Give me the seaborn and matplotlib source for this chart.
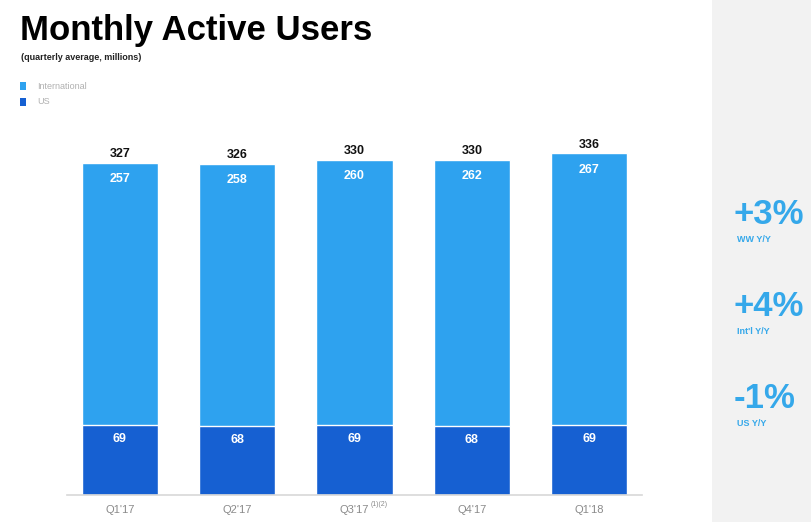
import matplotlib
matplotlib.use("Agg")
import matplotlib.pyplot as plt
import seaborn as sns
from matplotlib.patches import Rectangle

quarters = ["Q1'17", "Q2'17", "Q3'17", "Q4'17", "Q1'18"]
footnotes = ["", "", "(1)(2)", "", ""]
totals = [327, 326, 330, 330, 336]
international = [257, 258, 260, 262, 267]
us = [69, 68, 69, 68, 69]

growth_values = ["+3%", "+4%", "-1%"]
growth_labels = ["WW Y/Y", "Int'l Y/Y", "US Y/Y"]

INTL_COLOR = "#2ea2ef"
US_COLOR = "#1660d2"
STAT_COLOR = "#35a8ea"

sns.set_style("white")
plt.rcParams["font.family"] = ["Liberation Sans", "DejaVu Sans"]

fig = plt.figure(figsize=(8.12, 5.22), dpi=100)
fig.patch.set_facecolor("white")

# grey panel on the right
fig.patches.append(Rectangle((712 / 812, 0), 100 / 812, 1, transform=fig.transFigure,
                             facecolor="#f2f2f2", edgecolor="none", zorder=0))

ax = fig.add_axes([67 / 812, 27 / 522, 575 / 812, 366 / 522])
sns.barplot(x=quarters, y=totals, color=INTL_COLOR, width=0.65, saturation=1, ax=ax)
sns.barplot(x=quarters, y=us, color=US_COLOR, width=0.65, saturation=1, ax=ax)

ax.set_xlim(-0.45, 4.45)
ax.set_ylim(0, 360)
ax.set_yticks([])
ax.set_xticks(range(len(quarters)))
ax.set_xticklabels(quarters, color="#8a8a8a", fontsize=8)
ax.tick_params(axis="x", length=0, pad=7)
for side in ["top", "right", "left"]:
    ax.spines[side].set_visible(False)
ax.spines["bottom"].set_color("#d8d8d8")
ax.spines["bottom"].set_linewidth(1.2)
ax.set_xlabel("")
ax.set_ylabel("")

# footnote markers next to tick labels
for i, note in enumerate(footnotes):
    if note:
        ax.annotate(note, xy=(i, 0), xycoords="data", xytext=(11.5, -6.5),
                    textcoords="offset points", fontsize=5, color="#8a8a8a",
                    ha="left", va="center", annotation_clip=False)

for i in range(len(quarters)):
    ax.text(i, totals[i] + 8, str(totals[i]), ha="center", va="center",
            fontsize=9, fontweight="bold", color="#111111")
    ax.text(i, totals[i] - 16.5, str(international[i]), ha="center", va="center",
            fontsize=9, fontweight="bold", color="white")
    ax.text(i, us[i] - 14, str(us[i]), ha="center", va="center",
            fontsize=9, fontweight="bold", color="white")

# titles and legend
fig.text(20 / 812, 1 - 40 / 522, "Monthly Active Users", fontsize=25, fontweight="bold",
         color="black", va="baseline", ha="left")
fig.text(21 / 812, 1 - 57 / 522, "(quarterly average, millions)", fontsize=6.5,
         fontweight="bold", color="#222222", va="center", ha="left")
for k, (name, col) in enumerate([("International", INTL_COLOR), ("US", US_COLOR)]):
    y = 1 - (86 + 16 * k) / 522
    fig.patches.append(Rectangle((20 / 812, y - 4 / 522), 6 / 812, 8 / 522,
                                 transform=fig.transFigure, facecolor=col, edgecolor="none"))
    fig.text(37 / 812, y, name, fontsize=6.5, color="#b0b0b0", va="center", ha="left")

# growth stats
for k, (val, lab) in enumerate(zip(growth_values, growth_labels)):
    yc = 215 + 92 * k
    fig.text(734 / 812, 1 - yc / 522, val, fontsize=25, fontweight="bold",
             color=STAT_COLOR, va="center", ha="left")
    fig.text(737 / 812, 1 - (yc + 25) / 522, lab, fontsize=6.5, fontweight="bold",
             color=STAT_COLOR, va="center", ha="left")

fig.savefig("out.png", dpi=100)
